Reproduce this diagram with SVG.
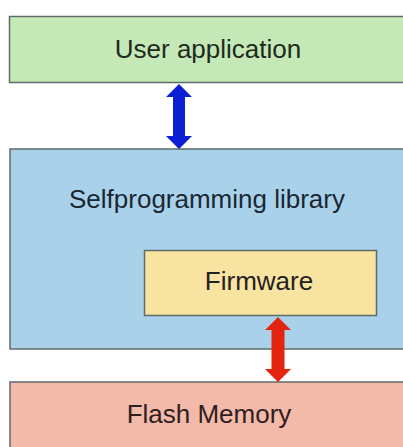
<svg xmlns="http://www.w3.org/2000/svg" width="403" height="447" viewBox="0 0 403 447">
<style>
.box{stroke:#5f6b6b;stroke-width:1.5}
.lbl{font-family:"Liberation Sans",Arial,sans-serif;font-size:26px;text-anchor:middle}
</style>
<rect width="403" height="447" fill="#ffffff"/>
<g id="user-application">
<rect class="box" x="9.5" y="16.5" width="405" height="66" fill="#c5e8b7"/>
<text class="lbl" x="208" y="58" fill="#1e2a1e">User application</text>
</g>
<g id="selfprogramming-library">
<rect class="box" x="10" y="149" width="405" height="200" fill="#a9d2ea"/>
<text class="lbl" x="207" y="208" fill="#1a2733">Selfprogramming library</text>
</g>
<g id="firmware">
<rect class="box" x="144.5" y="250.5" width="232" height="65" fill="#f9e3a1"/>
<text class="lbl" x="259" y="290" fill="#222222">Firmware</text>
</g>
<g id="flash-memory">
<rect class="box" x="10" y="382" width="405" height="80" fill="#f3b9a9"/>
<text class="lbl" x="209" y="423" fill="#2e2020">Flash Memory</text>
</g>
<g id="connectors">
<polygon fill="#0d1fd4" points="179,84 192,97 185,97 185,136 192,136 179,149 166,136 173,136 173,97 166,97"/>
<polygon fill="#e52410" points="278,317 291,330 284.5,330 284.5,369 291,369 278,382 265,369 271.5,369 271.5,330 265,330"/>
</g>
</svg>
